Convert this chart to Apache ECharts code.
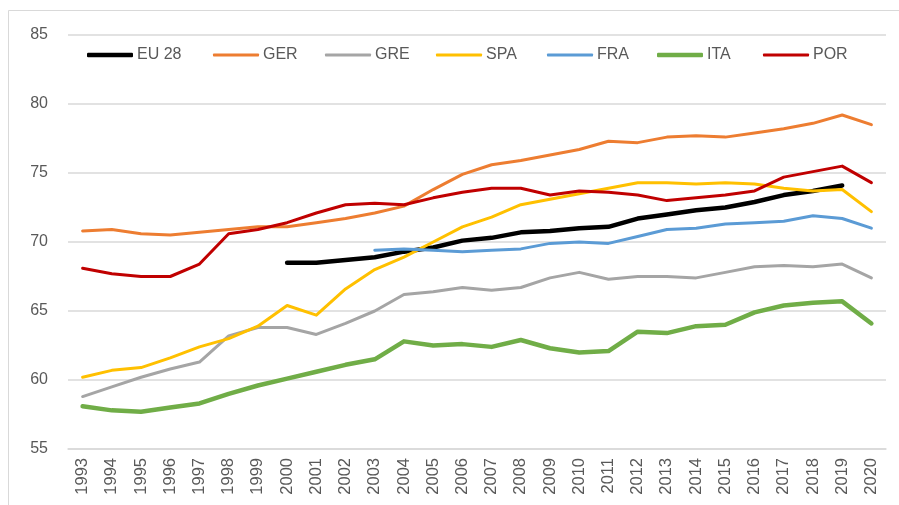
<!DOCTYPE html>
<html>
<head>
<meta charset="utf-8">
<style>
  html, body { margin: 0; padding: 0; background: #fff; }
  #chart { width: 899px; height: 505px; }
</style>
<script src="https://cdn.jsdelivr.net/npm/echarts@6/dist/echarts.min.js"></script>
</head>
<body>
<div id="chart"></div>
<script>
const years = ["1993","1994","1995","1996","1997","1998","1999","2000","2001","2002","2003","2004","2005","2006","2007","2008","2009","2010","2011","2012","2013","2014","2015","2016","2017","2018","2019","2020"];

const eu28 = [null,null,null,null,null,null,null,68.5,68.5,68.7,68.9,69.3,69.6,70.1,70.3,70.7,70.8,71.0,71.1,71.7,72.0,72.3,72.5,72.9,73.4,73.7,74.1,null];
const ger = [70.8,70.9,70.6,70.5,70.7,70.9,71.1,71.1,71.4,71.7,72.1,72.6,73.8,74.9,75.6,75.9,76.3,76.7,77.3,77.2,77.6,77.7,77.6,77.9,78.2,78.6,79.2,78.5];
const gre = [58.8,59.5,60.2,60.8,61.3,63.2,63.8,63.8,63.3,64.1,65.0,66.2,66.4,66.7,66.5,66.7,67.4,67.8,67.3,67.5,67.5,67.4,67.8,68.2,68.3,68.2,68.4,67.4];
const spa = [60.2,60.7,60.9,61.6,62.4,63.0,63.9,65.4,64.7,66.6,68.0,68.9,70.0,71.1,71.8,72.7,73.1,73.5,73.9,74.3,74.3,74.2,74.3,74.2,73.9,73.7,73.8,72.2];
const fra = [null,null,null,null,null,null,null,null,null,null,69.4,69.5,69.4,69.3,69.4,69.5,69.9,70.0,69.9,70.4,70.9,71.0,71.3,71.4,71.5,71.9,71.7,71.0];
const ita = [58.1,57.8,57.7,58.0,58.3,59.0,59.6,60.1,60.6,61.1,61.5,62.8,62.5,62.6,62.4,62.9,62.3,62.0,62.1,63.5,63.4,63.9,64.0,64.9,65.4,65.6,65.7,64.1];
const por = [68.1,67.7,67.5,67.5,68.4,70.6,70.9,71.4,72.1,72.7,72.8,72.7,73.2,73.6,73.9,73.9,73.4,73.7,73.6,73.4,73.0,73.2,73.4,73.7,74.7,75.1,75.5,74.3];

const seriesNames = ["EU 28","GER","GRE","SPA","FRA","ITA","POR"];
const seriesData = [eu28, ger, gre, spa, fra, ita, por];
const seriesColors = ["#000000","#ED7D31","#A5A5A5","#FFC000","#5B9BD5","#70AD47","#C00000"];
const seriesWidths = [4.5, 3, 3, 3, 3, 4.5, 3];
const legendLeft = [87, 213, 325, 436, 547, 657, 763];

const chart = echarts.init(document.getElementById("chart"));

const textFont = "'Liberation Sans', 'Noto Sans', sans-serif";

chart.setOption({
  animation: false,
  backgroundColor: "#fff",
  graphic: [{
    type: "rect",
    shape: { x: 8.5, y: 10.5, width: 900, height: 500 },
    style: { fill: "none", stroke: "#D9D9D9", lineWidth: 1 },
    z: -1
  }],
  // one legend per item so each sits where it does in the original
  legend: seriesNames.map((name, i) => ({
    data: [name],
    left: legendLeft[i],
    top: 47,
    padding: 0,
    icon: "roundRect",
    itemWidth: 46,
    itemHeight: seriesWidths[i],
    textStyle: { color: "#595959", fontSize: 16, fontFamily: textFont, padding: [0, 0, 0, -1] }
  })),
  grid: { left: 68, right: 13, top: 35, bottom: 56 },
  xAxis: {
    type: "category",
    data: years,
    boundaryGap: true,
    axisLine: { lineStyle: { color: "#D9D9D9", width: 1.5 } },
    axisTick: { show: false },
    axisLabel: {
      rotate: 90,
      margin: 9,
      color: "#595959",
      fontSize: 16.5,
      fontFamily: textFont,
      interval: 0
    }
  },
  yAxis: {
    type: "value",
    min: 55,
    max: 85,
    interval: 5,
    axisLine: { show: false },
    axisTick: { show: false },
    splitLine: { lineStyle: { color: "#D9D9D9", width: 1.5 } },
    axisLabel: { color: "#595959", fontSize: 16, fontFamily: textFont, margin: 20 }
  },
  series: seriesNames.map((name, i) => ({
    name: name,
    type: "line",
    data: seriesData[i],
    symbol: "none",
    color: seriesColors[i],
    lineStyle: { color: seriesColors[i], width: seriesWidths[i], cap: "round", join: "round" },
    connectNulls: false
  }))
});
</script>
</body>
</html>
